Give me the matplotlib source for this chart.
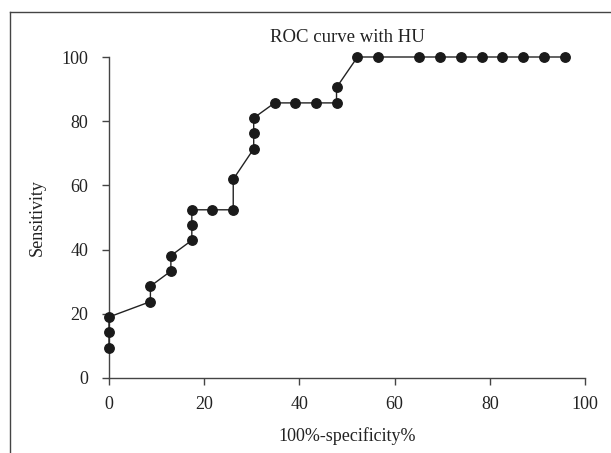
import matplotlib
matplotlib.use("Agg")
import matplotlib.pyplot as plt
from matplotlib.lines import Line2D

plt.rcParams['font.family'] = ['Liberation Serif', 'DejaVu Serif']

# 100%-specificity% (x) and sensitivity (y) of the ROC points
fpr = [0.0, 0.0, 0.0, 8.7, 8.7, 13.0, 13.0, 17.4, 17.4, 17.4, 21.7, 26.1, 26.1,
       30.4, 30.4, 30.4, 34.8, 39.1, 43.5, 47.8, 47.8, 52.2, 56.5, 65.2, 69.6,
       73.9, 78.3, 82.6, 87.0, 91.3, 95.7]
sens = [9.5, 14.3, 19.0, 23.8, 28.6, 33.3, 38.1, 42.9, 47.6, 52.4, 52.4, 52.4, 61.9,
        71.4, 76.2, 81.0, 85.7, 85.7, 85.7, 85.7, 90.5, 100.0, 100.0, 100.0, 100.0,
        100.0, 100.0, 100.0, 100.0, 100.0, 100.0]
ticks = [0, 20, 40, 60, 80, 100]
title = "ROC curve with HU"
xlabel = "100%-specificity%"
ylabel = "Sensitivity"

fig = plt.figure(figsize=(6.11, 4.53), dpi=100)
ax = fig.add_axes([109/611, 1-378/453, (585-109)/611, (378-57)/453])

ax.plot(fpr, sens, color='#222222', lw=1.0, marker='o', markersize=6.8,
        markerfacecolor='#1a1a1a', markeredgecolor='#1a1a1a', clip_on=False, zorder=3)

ax.set_xlim(0, 100)
ax.set_ylim(0, 100)
ax.set_xticks(ticks)
ax.set_yticks(ticks)
ax.spines['top'].set_visible(False)
ax.spines['right'].set_visible(False)
for s in ('left', 'bottom'):
    ax.spines[s].set_color('#444444')
    ax.spines[s].set_linewidth(1.0)
ax.tick_params(axis='both', direction='out', length=5, width=1.0, colors='#444444',
               labelcolor='#222222', labelsize=13)
ax.tick_params(axis='y', pad=10)
ax.tick_params(axis='x', pad=8)

ax.set_xlabel(xlabel, fontsize=13, color='#222222', labelpad=10)
ax.set_ylabel(ylabel, fontsize=13, color='#222222', labelpad=11)
ax.set_title(title, fontsize=13.5, color='#222222', pad=11)

# partial frame around the figure (left and top edges)
fig.add_artist(Line2D([9.5/611, 9.5/611], [0, 1-11.5/453], transform=fig.transFigure,
                      color='#444444', lw=1.0))
fig.add_artist(Line2D([9.5/611, 1], [1-11.5/453, 1-11.5/453], transform=fig.transFigure,
                      color='#444444', lw=1.0))

fig.savefig("out.png", dpi=100)
